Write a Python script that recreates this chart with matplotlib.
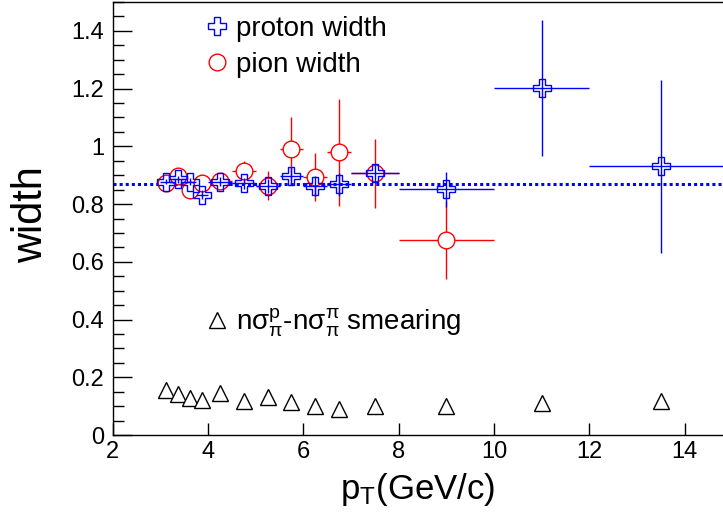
"""
plot.py
Proton / pion width versus pT, with the n-sigma smearing contribution.
"""
import matplotlib.pyplot as plt
from matplotlib.lines import Line2D
from matplotlib.ticker import MultipleLocator

# ─────────────────────────────────────────────────────────────────────────────
# Data
# ─────────────────────────────────────────────────────────────────────────────

PT       = [3.12, 3.38, 3.62, 3.88, 4.25, 4.75, 5.25, 5.75, 6.25, 6.75, 7.5, 9.0, 11.0, 13.5]
PT_ERR   = [0.125, 0.125, 0.125, 0.125, 0.25, 0.25, 0.25, 0.25, 0.25, 0.25, 0.5, 1.0, 1.0, 1.5]

P_WIDTH  = [0.878, 0.886, 0.878, 0.832, 0.878, 0.872, 0.863, 0.897, 0.863, 0.869, 0.907, 0.851, 1.201, 0.931]
P_ERR    = [0.010, 0.012, 0.012, 0.015, 0.015, 0.020, 0.025, 0.030, 0.035, 0.040, 0.030, 0.061, 0.235, 0.300]

N_PION   = 12                                   # pion points stop at pT = 9
PI_WIDTH = [0.874, 0.897, 0.847, 0.874, 0.879, 0.915, 0.863, 0.991, 0.893, 0.979, 0.907, 0.675]
PI_ERR   = [0.010, 0.012, 0.012, 0.015, 0.015, 0.035, 0.050, 0.110, 0.083, 0.185, 0.120, 0.135]

SMEAR    = [0.156, 0.142, 0.127, 0.121, 0.147, 0.119, 0.131, 0.115, 0.100, 0.089, 0.100, 0.100, 0.110, 0.118]

FIT_WIDTH = 0.868

# ─────────────────────────────────────────────────────────────────────────────
# Style
# ─────────────────────────────────────────────────────────────────────────────

plt.rcParams.update(
    {
        "font.family":      ["Liberation Sans", "DejaVu Sans"],
        "mathtext.default": "regular",
        "xtick.direction":  "in",
        "ytick.direction":  "in",
        "axes.linewidth":   1.0,
    }
)

P_COL  = "#0000ff"
PI_COL = "#ff0000"


def main():
    fig = plt.figure(figsize=(7.23, 5.20), dpi=100)
    ax  = fig.add_axes([112.7 / 723, 85 / 520, 1 - 112.7 / 723, 433 / 520])

    # fit line
    ax.axhline(FIT_WIDTH, color=P_COL, lw=2.2, ls=(0, (1, 1)), zorder=2)

    # pion
    ax.errorbar(PT[:N_PION], PI_WIDTH, xerr=PT_ERR[:N_PION], yerr=PI_ERR,
                fmt="o", ms=12, mfc="white", mec=PI_COL, mew=1.0,
                ecolor=PI_COL, elinewidth=1.0, capsize=0, zorder=3)
    # proton
    ax.errorbar(PT, P_WIDTH, xerr=PT_ERR, yerr=P_ERR,
                fmt="P", ms=13, mfc="none", mec=P_COL, mew=1.0,
                ecolor=P_COL, elinewidth=1.0, capsize=0, zorder=4)
    # smearing
    ax.plot(PT, SMEAR, "^", ms=11, mfc="white", mec="black", mew=1.0,
            ls="none", zorder=3)

    ax.set_xlim(2, 14.8)
    ax.set_ylim(0, 1.5)
    ax.xaxis.set_major_locator(MultipleLocator(2))
    ax.yaxis.set_major_locator(MultipleLocator(0.2))
    ax.yaxis.set_minor_locator(MultipleLocator(0.05))
    ax.yaxis.set_major_formatter(plt.FuncFormatter(lambda v, _: f"{v:g}"))
    ax.tick_params(axis="x", which="major", length=8.6, width=1, labelsize=17, pad=4)
    ax.tick_params(axis="y", which="major", length=13.7, width=1, labelsize=17, pad=6)
    ax.tick_params(axis="y", which="minor", length=7.9, width=1)
    ax.spines["right"].set_visible(False)

    ax.set_ylabel("width", fontsize=30, va="center")
    ax.yaxis.set_label_coords(-0.134, 0.51)
    ax.set_xlabel("p$_T$(GeV/c)", fontsize=25, va="center")
    ax.xaxis.set_label_coords(0.50, -0.125)

    # legends
    h_p  = Line2D([], [], ls="none", marker="P", ms=13, mfc="none", mec=P_COL, mew=1.0)
    h_pi = Line2D([], [], ls="none", marker="o", ms=12, mfc="none", mec=PI_COL, mew=1.0)
    h_sm = Line2D([], [], ls="none", marker="^", ms=11, mfc="none", mec="black", mew=1.0)

    leg1 = ax.legend([h_p, h_pi], ["proton width", "pion width"],
                     loc="upper left", bbox_to_anchor=(0.107, 1.025),
                     frameon=False, fontsize=20, handlelength=1.0,
                     handletextpad=0.2, labelspacing=0.35)
    ax.add_artist(leg1)
    ax.legend([h_sm], [r"n$\sigma_{\pi}^{p}$-n$\sigma_{\pi}^{\pi}$ smearing"],
              loc="center left", bbox_to_anchor=(0.107, 0.26),
              frameon=False, fontsize=20, handlelength=1.0, handletextpad=0.2)

    fig.savefig("out.png", dpi=100)
    plt.close(fig)


if __name__ == "__main__":
    main()
